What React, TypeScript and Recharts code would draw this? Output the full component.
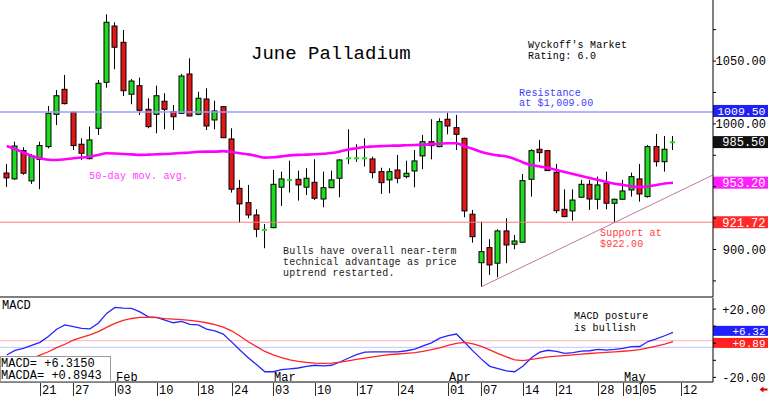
import React from 'react';
import { ComposedChart, LineChart, Bar, Line, XAxis, YAxis, ReferenceLine } from 'recharts';

// June palladium daily bars, Jan 14 - May 09
const dates = [
  'Jan 14', 'Jan 15', 'Jan 16', 'Jan 17', 'Jan 21', 'Jan 22', 'Jan 23', 'Jan 24', 'Jan 27', 'Jan 28',
  'Jan 29', 'Jan 30', 'Jan 31', 'Feb 03', 'Feb 04', 'Feb 05', 'Feb 06', 'Feb 07', 'Feb 10', 'Feb 11',
  'Feb 12', 'Feb 13', 'Feb 14', 'Feb 18', 'Feb 19', 'Feb 20', 'Feb 21', 'Feb 24', 'Feb 25', 'Feb 26',
  'Feb 27', 'Feb 28', 'Mar 03', 'Mar 04', 'Mar 05', 'Mar 06', 'Mar 07', 'Mar 10', 'Mar 11', 'Mar 12',
  'Mar 13', 'Mar 14', 'Mar 17', 'Mar 18', 'Mar 19', 'Mar 20', 'Mar 21', 'Mar 24', 'Mar 25', 'Mar 26',
  'Mar 27', 'Mar 28', 'Mar 31', 'Apr 01', 'Apr 02', 'Apr 03', 'Apr 04', 'Apr 07', 'Apr 08', 'Apr 09',
  'Apr 10', 'Apr 11', 'Apr 14', 'Apr 15', 'Apr 16', 'Apr 17', 'Apr 21', 'Apr 22', 'Apr 23', 'Apr 24',
  'Apr 25', 'Apr 28', 'Apr 29', 'Apr 30', 'May 01', 'May 02', 'May 05', 'May 06', 'May 07', 'May 08',
  'May 09',
];

const opens = [
  960.9, 956.2, 978.7, 954.6, 971.8, 981.9, 1007.6, 1027.5, 1009.2, 983.8,
  972.3, 996.5, 1033.1, 1077.9, 1064.9, 1023.6, 1030.4, 1011.6, 1007.6, 1018.0,
  1009.7, 1008.4, 1039.7, 1007.6, 1019.8, 1003.1, 1013.7, 988.0, 948.7, 937.3,
  927.5, 915.4, 917.4, 949.6, 955.2, 955.9, 949.6, 953.5, 940.2, 949.2,
  956.7, 972.4, 972.4, 972.4, 972.1, 962.0, 955.4, 963.3, 958.0, 962.5,
  974.5, 985.8, 981.9, 1003.7, 997.0, 988.5, 928.1, 889.5, 901.5, 889.1,
  914.8, 904.2, 905.8, 955.9, 979.8, 978.7, 961.5, 932.0, 930.7, 941.6,
  951.9, 940.0, 952.7, 936.8, 940.0, 947.4, 956.2, 942.1, 981.9, 969.9,
  985.2,
];
const highs = [
  968.1, 985.8, 981.4, 976.0, 985.8, 1014.2, 1027.0, 1038.9, 1009.7, 988.5,
  997.8, 1034.9, 1087.2, 1080.9, 1074.7, 1035.7, 1036.8, 1020.4, 1030.4, 1024.4,
  1015.0, 1039.7, 1052.2, 1025.6, 1028.3, 1018.5, 1014.2, 996.5, 955.4, 951.4,
  932.0, 920.3, 963.3, 962.0, 970.7, 962.8, 964.7, 971.8, 962.0, 962.8,
  971.8, 995.7, 983.8, 988.5, 973.9, 965.1, 964.7, 975.3, 970.7, 979.2,
  991.2, 1003.7, 1004.5, 1008.9, 1007.1, 989.0, 931.5, 922.2, 908.2, 916.1,
  924.9, 911.6, 960.1, 979.8, 987.2, 979.2, 968.1, 947.9, 947.9, 955.4,
  955.4, 958.0, 962.0, 940.5, 955.4, 961.2, 968.1, 983.2, 992.0, 990.4,
  990.4,
];
const lows = [
  949.8, 955.5, 959.5, 952.2, 948.0, 980.5, 999.1, 1015.5, 979.2, 971.3,
  971.8, 991.2, 1028.8, 1043.5, 1022.2, 1015.6, 1007.1, 996.5, 992.5, 995.7,
  995.1, 1008.0, 1006.0, 1007.0, 995.1, 995.7, 988.8, 945.3, 921.4, 924.9,
  909.8, 901.0, 916.9, 934.7, 945.3, 938.9, 943.4, 939.4, 933.6, 948.7,
  941.6, 968.1, 969.7, 966.0, 956.7, 944.2, 944.8, 952.7, 956.7, 949.5,
  963.9, 971.8, 981.4, 991.7, 979.2, 925.7, 905.5, 870.4, 879.8, 877.9,
  889.1, 900.2, 905.5, 942.1, 969.9, 962.5, 928.9, 925.7, 923.0, 941.5,
  931.5, 932.0, 932.0, 921.4, 939.8, 942.1, 938.1, 941.3, 966.0, 962.0,
  979.2,
];
const closes = [
  957.0, 982.4, 960.7, 974.5, 982.7, 1008.4, 1022.4, 1016.1, 982.7, 976.6,
  987.2, 1032.3, 1080.9, 1061.0, 1026.4, 1034.1, 1010.8, 997.8, 1022.4, 1011.6,
  1005.7, 1038.1, 1006.3, 1020.4, 998.3, 1010.3, 989.0, 948.0, 936.3, 927.5,
  916.1, 915.8, 951.9, 956.2, 955.6, 951.4, 956.7, 940.8, 949.2, 955.4,
  971.3, 972.8, 972.8, 972.8, 961.2, 953.2, 962.0, 956.7, 960.7, 970.5,
  985.8, 982.7, 1001.8, 998.3, 991.7, 930.7, 910.2, 898.3, 887.7, 914.8,
  903.6, 906.8, 954.8, 978.7, 977.1, 962.8, 930.9, 926.2, 939.4, 951.9,
  940.2, 951.4, 936.8, 940.0, 946.6, 958.0, 944.2, 981.9, 969.9, 979.8,
  985.5,
];
const ma50 = [
  982.4, 980.0, 977.2, 974.5, 972.6, 971.5, 971.3, 971.8, 972.6, 973.3,
  973.9, 975.3, 976.6, 976.4, 976.0, 975.7, 975.3, 975.5, 975.8, 976.0,
  976.4, 976.8, 977.2, 977.8, 977.9, 977.9, 978.3, 977.6, 976.6, 975.7,
  974.5, 973.1, 973.4, 974.1, 974.9, 975.3, 975.5, 975.8, 976.2, 976.8,
  978.0, 979.6, 980.6, 981.6, 982.0, 982.3, 982.6, 982.7, 983.0, 983.2,
  983.4, 983.8, 984.2, 984.6, 984.6, 982.2, 980.0, 977.6, 976.0, 974.9,
  974.1, 972.1, 969.3, 967.3, 966.1, 964.9, 963.3, 961.7, 960.1, 958.5,
  956.9, 955.4, 953.8, 952.4, 951.4, 950.2, 949.8, 950.2, 951.4, 952.6,
  953.2,
];
const macd = [
  -6.9, -4.2, -3.0, -1.3, 0.5, 4.0, 8.2, 10.7, 9.7, 8.7,
  8.4, 11.7, 17.5, 21.0, 20.6, 20.4, 18.4, 15.5, 15.2, 13.6,
  12.0, 12.8, 11.1, 10.7, 8.3, 7.3, 5.4, 0.8, -4.0, -8.5,
  -12.5, -16.7, -16.7, -15.5, -15.0, -14.5, -13.5, -12.9, -13.3, -12.9,
  -11.0, -8.8, -6.7, -5.2, -5.0, -5.1, -5.0, -5.0, -4.4, -3.5,
  -1.5, 0.2, 3.0, 4.5, 5.4, 0.4, -4.6, -9.3, -13.5, -14.9,
  -16.2, -16.7, -13.3, -8.5, -5.2, -4.1, -4.7, -5.9, -5.5, -4.6,
  -4.4, -3.6, -4.0, -3.6, -3.0, -2.0, -1.9, 1.0, 2.5, 4.4,
  6.315,
];
const macdAvg = [
  -12.5, -11.5, -10.3, -9.0, -7.0, -5.0, -2.6, -0.6, 1.8, 3.4,
  4.9, 6.8, 9.3, 11.6, 13.4, 14.5, 15.2, 15.2, 15.0, 14.4,
  14.1, 13.8, 13.4, 12.8, 12.0, 10.9, 9.4, 7.3, 4.2, 0.9,
  -2.0, -4.8, -6.8, -8.4, -9.8, -10.6, -11.2, -11.7, -11.8, -11.7,
  -11.1, -10.3, -9.4, -8.7, -8.0, -7.3, -6.6, -6.3, -5.9, -5.5,
  -4.7, -3.8, -2.7, -1.3, -0.1, 0.5, -0.4, -1.8, -3.9, -6.1,
  -8.0, -9.8, -10.2, -9.5, -8.7, -8.0, -7.5, -7.2, -6.8, -6.4,
  -6.0, -5.6, -5.4, -5.1, -4.7, -4.3, -3.8, -2.7, -1.7, -0.5,
  0.8943,
];

// date axis: bar index of each labelled day (May 12 is past the last bar)
const tickIndex = [4, 8, 13, 18, 23, 27, 32, 37, 42, 47, 53, 57, 62, 66, 71, 74, 76, 81];
const tickLabels = ['21', '27', '03', '10', '18', '24', '03', '10', '17', '24', '01', '07', '14', '21', '28', '01', '05', '12'];
const monthIndex = [13, 32, 53, 74];
const monthNames = ['Feb', 'Mar', 'Apr', 'May'];

const priceTicks = [875, 900, 925, 950, 975, 1000, 1025, 1050, 1075];
const macdTicks = [-20, -10, 0, 10, 20];

const resistance = 1009.5;
const support = 921.72;
const lastPrice = 985.5;
const lastMa = 953.2;
const trendStart = { x: 57, y: 870.4 };
const trendEnd = { x: 84.8, y: 959.3 };

const X_DOMAIN = [-0.8, 84.8];
const PRICE_DOMAIN = [862.2, 1098.6];
const MONO = '"Liberation Mono", "DejaVu Sans Mono", monospace';
const GREEN = '#1edc1e';
const RED = '#e41616';

const bars = dates.map((d, i) => ({
  i,
  date: d,
  open: opens[i],
  high: highs[i],
  low: lows[i],
  close: closes[i],
  range: [lows[i], highs[i]],
  ma: ma50[i],
  macd: macd[i],
  avg: macdAvg[i],
}));

const Candle = (props: any) => {
  const { x, y, width, height, payload } = props;
  if (!payload || height == null) return <g />;
  const { open, close, high, low } = payload;
  const cx = Math.floor(x + width / 2) + 0.5;
  const k = high > low ? height / (high - low) : 0;
  const py = (v: number) => y + (high - v) * k;
  const yTop = py(Math.max(open, close));
  const yBot = py(Math.min(open, close));
  const doji = yBot - yTop < 1.5;
  return (
    <g>
      <line x1={cx} x2={cx} y1={y} y2={y + height} stroke="#000" strokeWidth={1} />
      {doji ? (
        <rect x={cx - 2.5} y={(yTop + yBot) / 2 - 1} width={5} height={2} fill={GREEN} />
      ) : (
        <rect x={cx - 2.5} y={yTop} width={5} height={yBot - yTop}
          fill={close >= open ? GREEN : RED} stroke="#000" strokeWidth={1} />
      )}
    </g>
  );
};

const PriceTick = ({ y, payload }: any) => {
  const v = payload.value;
  if (v % 50 !== 0 || v === 950) return <g />;
  return (
    <text x={766} y={y + 4} textAnchor="end" fontFamily={MONO} fontSize={12} fill="#000">
      {v.toFixed(2)}
    </text>
  );
};

const MacdTick = ({ y, payload }: any) => {
  const v = payload.value;
  if (Math.abs(v) !== 20) return <g />;
  return (
    <text x={765.5} y={y + 4.5} textAnchor="end" fontFamily={MONO} fontSize={12} fill="#000">
      {(v > 0 ? '+' : '') + v.toFixed(2)}
    </text>
  );
};

const DateTick = ({ x, y, payload }: any) => {
  const k = tickIndex.indexOf(payload.value);
  const m = monthIndex.indexOf(payload.value);
  const lx = Math.round(x) + 0.5;
  return (
    <g>
      <line x1={lx} x2={lx} y1={y + 1} y2={y + 14} stroke="#333" />
      <text x={lx + 1.5} y={y + 11.5} fontFamily={MONO} fontSize={12} fill="#000">{tickLabels[k]}</text>
      {m >= 0 && (
        <text x={lx + 0.5} y={y - 1.5} fontFamily={MONO} fontSize={12} fill="#000">{monthNames[m]}</text>
      )}
    </g>
  );
};

const ValueBox = ({ viewBox, text, fill, dy = 0, h = 12, fs = 12 }: any) => {
  if (!viewBox) return null;
  const x = viewBox.x + viewBox.width;
  const y = viewBox.y + dy;
  return (
    <g>
      <rect x={x} y={y - h / 2} width={55} height={h} fill={fill} />
      <text x={765.5} y={y + fs * 0.36} textAnchor="end" fill="#fff" fontFamily={MONO} fontSize={fs}>{text}</text>
    </g>
  );
};

export default function App() {
  return (
    <div style={{ position: 'absolute', left: 0, top: 0, width: 768, height: 396, background: '#fff' }}>
      <div style={{ position: 'absolute', left: 0, top: 0 }}>
        <ComposedChart width={768} height={298} data={bars} margin={{ top: 0, right: 0, left: 0, bottom: 0 }}>
          <XAxis type="number" dataKey="i" domain={X_DOMAIN} allowDataOverflow height={1}
            tick={false} tickLine={false} axisLine={{ stroke: '#000' }} />
          <YAxis orientation="right" width={55} domain={PRICE_DOMAIN} allowDataOverflow
            ticks={priceTicks} interval={0} tick={<PriceTick />} tickSize={3}
            axisLine={{ stroke: '#000' }} tickLine={{ stroke: '#000' }} />
          <YAxis yAxisId="edge" orientation="left" width={0} mirror domain={PRICE_DOMAIN} allowDataOverflow
            ticks={priceTicks} interval={0} tick={false} tickSize={2}
            axisLine={false} tickLine={{ stroke: '#999' }} />
          <ReferenceLine y={resistance} stroke="#9b9bff" strokeWidth={1.5}
            label={<ValueBox text="1009.50" fill="#2020f0" dy={-1} fs={11.5} />} />
          <ReferenceLine y={support} stroke="#ff7a7a" strokeWidth={1}
            label={<ValueBox text="921.72" fill="#ff2a2a" />} />
          <ReferenceLine segment={[trendStart, trendEnd]} stroke="#bb7ba3" strokeWidth={1} />
          <Bar dataKey="range" barSize={6} shape={<Candle />} isAnimationActive={false} />
          <Line dataKey="ma" type="monotone" stroke="#ff00ff" strokeWidth={2.6} dot={false}
            activeDot={false} isAnimationActive={false} />
          <ReferenceLine y={lastPrice} strokeOpacity={0}
            label={<ValueBox text="985.50" fill="#111" />} />
          <ReferenceLine y={lastMa} strokeOpacity={0}
            label={<ValueBox text="953.20" fill="#ff1cff" />} />
        </ComposedChart>
      </div>
      <div style={{ position: 'absolute', left: 0, top: 297 }}>
        <LineChart width={768} height={99} data={bars} margin={{ top: 1, right: 0, left: 0, bottom: 0 }}>
          <XAxis type="number" dataKey="i" domain={X_DOMAIN} allowDataOverflow ticks={tickIndex}
            interval={0} tick={<DateTick />} tickLine={false} tickSize={0} tickMargin={0} height={14}
            axisLine={{ stroke: '#000' }} />
          <YAxis orientation="right" width={55} domain={[-22.7, 26.5]} allowDataOverflow
            ticks={macdTicks} interval={0} tick={<MacdTick />} tickSize={3}
            axisLine={{ stroke: '#000' }} tickLine={{ stroke: '#000' }} />
          <ReferenceLine y={1.5} stroke="#ffb4b4" />
          <ReferenceLine y={-2.4} stroke="#c4c4ff" />
          <Line dataKey="macd" type="linear" stroke="#2424ff" strokeWidth={1.3} dot={false}
            activeDot={false} isAnimationActive={false} />
          <Line dataKey="avg" type="linear" stroke="#ff2424" strokeWidth={1.3} dot={false}
            activeDot={false} isAnimationActive={false} />
          <ReferenceLine y={6.315} strokeOpacity={0}
            label={<ValueBox text="+6.32" fill="#2020ff" dy={-1.6} h={10} fs={11} />} />
          <ReferenceLine y={0.8943} strokeOpacity={0}
            label={<ValueBox text="+0.89" fill="#ff2020" dy={1.2} h={10} fs={11} />} />
        </LineChart>
      </div>
      <svg width={768} height={396} style={{ position: 'absolute', left: 0, top: 0, pointerEvents: 'none' }}
        fontFamily={MONO}>
        <text x={251} y={59} fontSize={19} fill="#000">June Palladium</text>
        <g fontSize={10} letterSpacing={0.2}>
          <text x={528} y={47.5} fill="#000">Wyckoff's Market</text>
          <text x={528} y={58.5} fill="#000">Rating: 6.0</text>
          <text x={519} y={95.5} fill="#3c3cff">Resistance</text>
          <text x={519} y={106} fill="#3c3cff">at $1,009.00</text>
          <text x={89} y={179} fill="#ff3cff">50-day mov. avg.</text>
          <text x={283} y={253.5} fill="#222">Bulls have overall near-term</text>
          <text x={283} y={264.5} fill="#222">technical advantage as price</text>
          <text x={283} y={275.5} fill="#222">uptrend restarted.</text>
          <text x={600} y={235.5} fill="#ff3c3c">Support at</text>
          <text x={600} y={246.5} fill="#ff3c3c">$922.00</text>
          <text x={574} y={319} fill="#000">MACD posture</text>
          <text x={574} y={330.5} fill="#000">is bullish</text>
        </g>
        <text x={2} y={309} fontSize={12} fill="#000">MACD</text>
        <rect x={0.5} y={356.5} width={110} height={25} fill="#fff" stroke="#999" />
        <text x={1} y={366.5} fontSize={12} fill="#000">{'MACD=  +6.3150'}</text>
        <text x={1} y={379} fontSize={12} fill="#000">{'MACDA= +0.8943'}</text>
        <polygon points="759.5,389.5 763.5,386.5 763.5,388.5 767.5,388.5 767.5,390.5 763.5,390.5 763.5,392.5" fill="#e00000" />
      </svg>
    </div>
  );
}
